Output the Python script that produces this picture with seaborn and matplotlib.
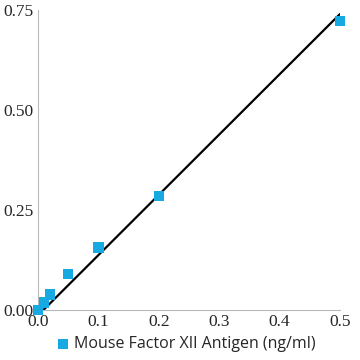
import numpy as np
import pandas as pd
import matplotlib
matplotlib.use("Agg")
import matplotlib.pyplot as plt
import seaborn as sns

# standard curve, Mouse Factor XII Antigen
conc = [0, 0.01, 0.02, 0.05, 0.1, 0.2, 0.5]
od = [0.0, 0.019, 0.039, 0.09, 0.156, 0.285, 0.723]
fit_slope = 1.507
fit_intercept = -0.0135
x_ticks = [0.0, 0.1, 0.2, 0.3, 0.4, 0.5]
y_ticks = [0.0, 0.25, 0.5, 0.75]
label = "Mouse Factor XII Antigen (ng/ml)"

sns.set_style("white")
blue = "#17a9e1"
grey = "#b8b8b8"

df = pd.DataFrame({"conc": conc, "od": od})
fit_x = np.linspace(0, 0.5, 50)
fit = pd.DataFrame({"conc": fit_x, "od": fit_slope * fit_x + fit_intercept})

fig = plt.figure(figsize=(3.6, 3.6), dpi=100)
ax = fig.add_axes([38 / 360, 50 / 360, 302 / 360, 300 / 360])

sns.lineplot(data=fit, x="conc", y="od", color="black", linewidth=1.6, ax=ax)
sns.scatterplot(data=df, x="conc", y="od", marker="s", s=55, color=blue,
                edgecolor="none", label=label, clip_on=False, zorder=3, ax=ax)

ax.set_xlim(0, 0.5)
ax.set_ylim(0, 0.75)
ax.set_xticks(x_ticks)
ax.set_yticks(y_ticks)
ax.set_xticklabels([f"{v:.1f}" for v in x_ticks], family="Liberation Serif", fontsize=12.5)
ax.set_yticklabels([f"{v:.2f}" for v in y_ticks], family="Liberation Serif", fontsize=12.5)
ax.tick_params(direction="in", length=6, color=grey, width=0.8, pad=3)
ax.set_xlabel("")
ax.set_ylabel("")
for s in ["top", "right"]:
    ax.spines[s].set_visible(False)
for s in ["left", "bottom"]:
    ax.spines[s].set_color(grey)
    ax.spines[s].set_linewidth(0.8)

ax.legend(loc="center", bbox_to_anchor=(0.49, -0.115), frameon=False,
          handlelength=0.8, handletextpad=0.3,
          prop={"family": "Open Sans", "size": 11.5},
          markerscale=1.0, borderaxespad=0)

fig.savefig("out.png", dpi=100)
